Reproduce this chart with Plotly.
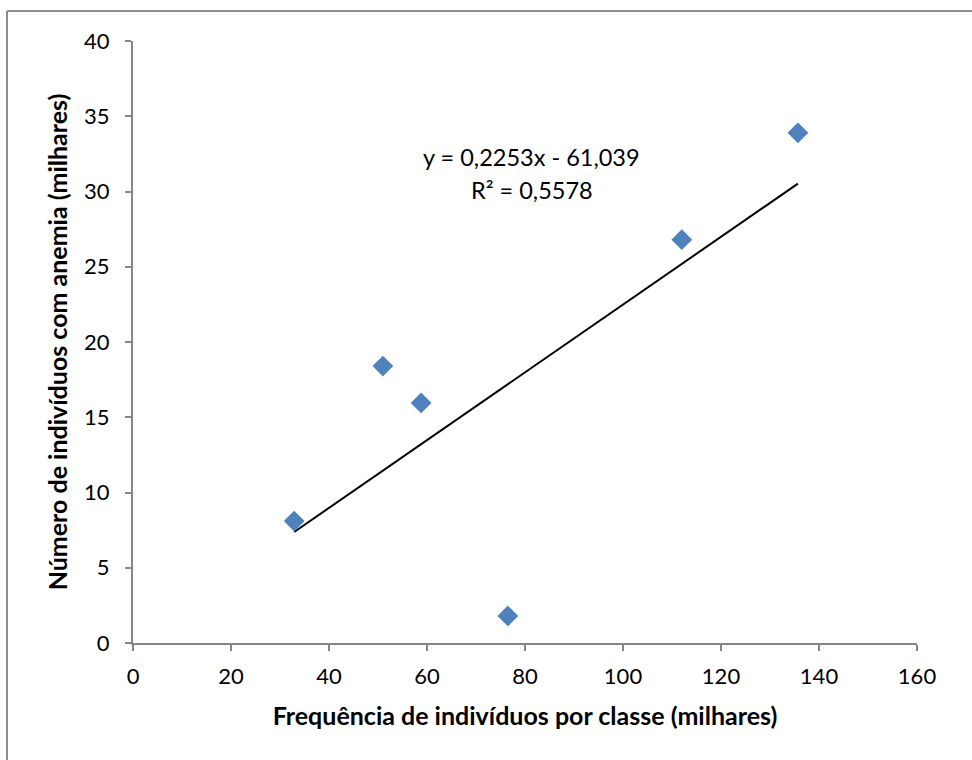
import numpy as np
import plotly.graph_objects as go

freq = [32.9, 51.0, 58.8, 76.5, 112.0, 135.7]
anemia = [8.1, 18.4, 15.95, 1.8, 26.8, 33.9]
eq_text = "y = 0,2253x - 61,039"
r2_text = "R² = 0,5578"
x_title = "Frequência de indivíduos por classe (milhares)"
y_title = "Número de indivíduos com anemia (milhares)"
x_ticks = [0, 20, 40, 60, 80, 100, 120, 140, 160]
y_ticks = [0, 5, 10, 15, 20, 25, 30, 35, 40]

slope, intercept = np.polyfit(freq, anemia, 1)
x_fit = [min(freq), max(freq)]
y_fit = [slope * v + intercept for v in x_fit]

FONT = "Lato, Calibri, Carlito, sans-serif"
AX = "#868686"

fig = go.Figure()
fig.add_trace(go.Scatter(x=x_fit, y=y_fit, mode="lines",
                         line=dict(color="black", width=2), hoverinfo="skip",
                         showlegend=False))
fig.add_trace(go.Scatter(x=freq, y=anemia, mode="markers",
                         marker=dict(symbol="diamond", size=16, color="#4F81BD",
                                     line=dict(width=0)),
                         showlegend=False))

fig.update_layout(
    width=972, height=760,
    margin=dict(l=133, r=55, t=41, b=117),
    paper_bgcolor="white", plot_bgcolor="white",
    font=dict(family=FONT, size=22, color="black"),
    showlegend=False,
    xaxis=dict(range=[0, 160], tickvals=x_ticks, showgrid=False, zeroline=False,
               showline=True, linecolor=AX, linewidth=2, ticks="outside",
               tickcolor=AX, ticklen=6, tickwidth=2, ticklabelstandoff=7,
               tickfont=dict(size=22),
               title=dict(text="<b>" + x_title + "</b>", font=dict(size=25), standoff=19)),
    yaxis=dict(range=[0, 40], tickvals=y_ticks, showgrid=False, zeroline=False,
               showline=True, linecolor=AX, linewidth=2, ticks="outside",
               tickcolor=AX, ticklen=6, tickwidth=2, ticklabelstandoff=11,
               tickfont=dict(size=22),
               title=dict(text="<b>" + y_title + "</b>", font=dict(size=25), standoff=9)),
    annotations=[
        dict(x=81.4, y=32.3, xref="x", yref="y", text=eq_text, showarrow=False,
             font=dict(size=23.5)),
        dict(x=81.4, y=30.1, xref="x", yref="y", text=r2_text, showarrow=False,
             font=dict(size=23.5)),
    ],
    shapes=[
        dict(type="line", xref="paper", yref="paper", x0=-0.1607, x1=1.08,
             y0=1.0498, y1=1.0498, line=dict(color="#8c8c8c", width=2)),
        dict(type="line", xref="paper", yref="paper", x0=-0.1607, x1=-0.1607,
             y0=1.0498, y1=-0.2, line=dict(color="#8c8c8c", width=2)),
    ],
)

fig.write_html("out.html")
